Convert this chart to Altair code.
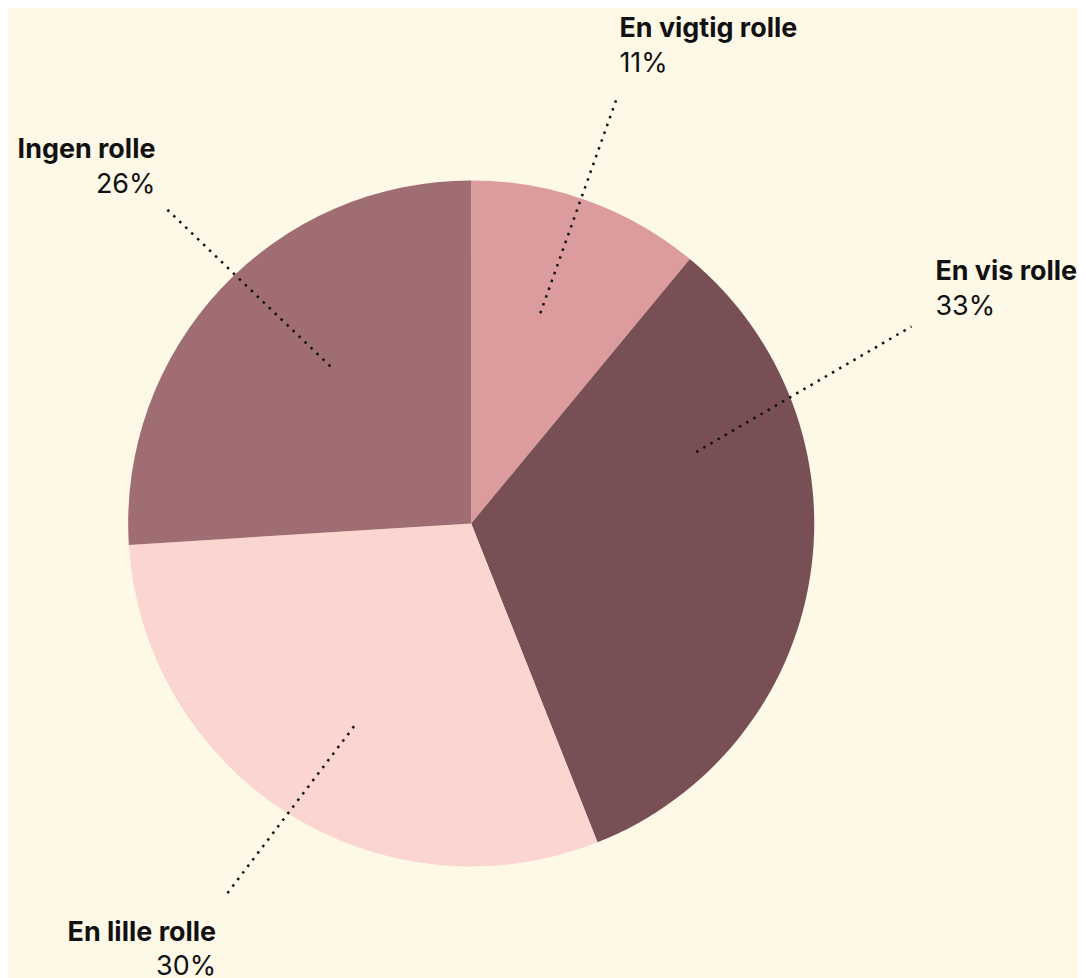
import altair as alt
import pandas as pd

# ---- data ----
categories = ["En vigtig rolle", "En vis rolle", "En lille rolle", "Ingen rolle"]
shares = [11, 33, 30, 26]
pct_labels = ["11%", "33%", "30%", "26%"]
slice_order = [1, 2, 3, 4]

# ---- styling / annotation layout (manual label placement) ----
colors = ["#dc9b9d", "#774f55", "#fbd5cf", "#a06d73"]
nudge_in_deg = [-1.6, -26.6, -2.4, 4.9]    # leader start: nudge from slice mid-angle
nudge_out_deg = [-0.9, -33.1, 1.0, 2.7]    # leader end: nudge from slice mid-angle
inner_frac = [0.645, 0.688, 0.683, 0.615]
reach_frac = [1.307, 1.406, 1.293, 1.285]
text_dx = [3, 24, -11, -9]
name_dy = [-62, -47, 47, -49]
LINE_GAP = 35

W, H = 1070, 962
CX, CY, R = 464.5, 515.5, 344
BG = "#fef8e7"

df = pd.DataFrame({
    "cat": categories,
    "share": shares,
    "pct": pct_labels,
    "order": slice_order,
    "nin": nudge_in_deg,
    "nout": nudge_out_deg,
    "inner": inner_frac,
    "reach": reach_frac,
    "tdx": text_dx,
    "ndy": name_dy,
})

base = alt.Chart(df)

pie = base.mark_arc(radius=R).encode(
    theta=alt.Theta("share:Q", stack=True),
    order=alt.Order("order:Q", sort="ascending"),
    color=alt.Color("cat:N", scale=alt.Scale(domain=categories, range=colors), legend=None),
    x=alt.value(CX),
    y=alt.value(CY),
)

geo = base.transform_joinaggregate(
    total="sum(share)"
).transform_window(
    cum="sum(share)", sort=[alt.SortField("order")], frame=[None, 0]
).transform_calculate(
    mid="(datum.cum - datum.share/2)/datum.total*2*PI"
).transform_calculate(
    a_in="datum.mid + datum.nin*PI/180",
    a_out="datum.mid + datum.nout*PI/180",
).transform_calculate(
    x_in=f"{CX} + datum.inner*{R}*sin(datum.a_in)",
    y_in=f"{CY} - datum.inner*{R}*cos(datum.a_in)",
    x_out=f"{CX} + datum.reach*{R}*sin(datum.a_out)",
    y_out=f"{CY} - datum.reach*{R}*cos(datum.a_out)",
).transform_calculate(
    lx="datum.x_out + datum.tdx",
    ny="datum.y_out + datum.ndy",
    py=f"datum.y_out + datum.ndy + {LINE_GAP}",
)

xs = alt.Scale(domain=[0, W], nice=False, zero=False)
ys = alt.Scale(domain=[0, H], nice=False, zero=False, reverse=True)

leaders = geo.mark_rule(
    color="#111111", strokeWidth=2.5, strokeDash=[2.5, 5.8], strokeCap="butt"
).encode(
    x=alt.X("x_in:Q", scale=xs, axis=None),
    y=alt.Y("y_in:Q", scale=ys, axis=None),
    x2="x_out:Q",
    y2="y_out:Q",
)

FONT = "Inter"
FS = 27
labels = []
for side, align in (("datum.tdx >= 0", "left"), ("datum.tdx < 0", "right")):
    g = geo.transform_filter(side)
    labels.append(
        g.mark_text(align=align, baseline="alphabetic", font=FONT, fontSize=FS,
                    fontWeight="bold", color="#111111").encode(
            x=alt.X("lx:Q", scale=xs, axis=None),
            y=alt.Y("ny:Q", scale=ys, axis=None),
            text="cat:N",
        )
    )
    labels.append(
        g.mark_text(align=align, baseline="alphabetic", font=FONT, fontSize=FS,
                    fontWeight="normal", color="#111111").encode(
            x=alt.X("lx:Q", scale=xs, axis=None),
            y=alt.Y("py:Q", scale=ys, axis=None),
            text="pct:N",
        )
    )

chart = alt.layer(pie, leaders, *labels).properties(
    width=W, height=H, padding=0, background=BG
).configure_view(stroke=None)

chart.save("out.html", embed_options={"renderer": "svg", "actions": False})
